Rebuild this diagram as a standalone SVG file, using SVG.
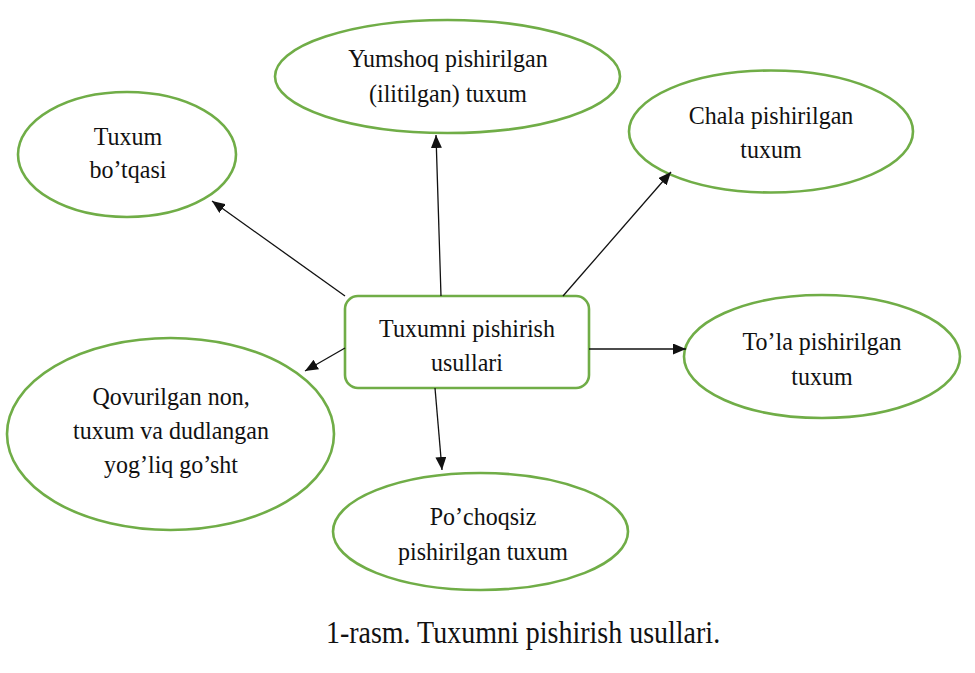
<svg xmlns="http://www.w3.org/2000/svg" width="975" height="673" viewBox="0 0 975 673">
<defs>
<style>
.n{fill:#fff;stroke:#70AD47;stroke-width:2.6}
text{font-family:"Liberation Serif","Times New Roman",serif;fill:#111;text-anchor:middle}
.t{font-size:24px}
.cap{font-size:28px}
.c{stroke:#111;stroke-width:1.3;fill:none;marker-end:url(#ah)}
</style>
<marker id="ah" markerUnits="userSpaceOnUse" markerWidth="13" markerHeight="11" refX="13" refY="5.5" orient="auto">
<path d="M0,0 L13,5.5 L0,11 z" fill="#111"/>
</marker>
</defs>
<rect width="975" height="673" fill="#fff"/>
<g id="center">
<rect class="n" x="345" y="296" width="244" height="92" rx="13"/>
<text class="t" font-family="Liberation Serif, serif" transform="matrix(1,0,0,1.08,467,337)">Tuxumni pishirish</text>
<text class="t" font-family="Liberation Serif, serif" transform="matrix(1,0,0,1.08,467,371)">usullari</text>
</g>
<g id="botqasi">
<ellipse class="n" cx="127" cy="154.5" rx="109" ry="62.5"/>
<text class="t" font-family="Liberation Serif, serif" transform="matrix(1,0,0,1.08,128,145)">Tuxum</text>
<text class="t" font-family="Liberation Serif, serif" transform="matrix(1,0,0,1.08,128,178)">bo’tqasi</text>
</g>
<g id="yumshoq">
<ellipse class="n" cx="447.5" cy="76.5" rx="172.5" ry="56.5"/>
<text class="t" font-family="Liberation Serif, serif" transform="matrix(1,0,0,1.08,448,67)">Yumshoq pishirilgan</text>
<text class="t" font-family="Liberation Serif, serif" transform="matrix(1,0,0,1.08,448,102)">(ilitilgan) tuxum</text>
</g>
<g id="chala">
<ellipse class="n" cx="771" cy="131.5" rx="142" ry="61"/>
<text class="t" font-family="Liberation Serif, serif" transform="matrix(1,0,0,1.08,771,124)">Chala pishirilgan</text>
<text class="t" font-family="Liberation Serif, serif" transform="matrix(1,0,0,1.08,771,158)">tuxum</text>
</g>
<g id="tola">
<ellipse class="n" cx="822" cy="356.5" rx="138" ry="61.5"/>
<text class="t" font-family="Liberation Serif, serif" transform="matrix(1,0,0,1.08,822,350)">To’la pishirilgan</text>
<text class="t" font-family="Liberation Serif, serif" transform="matrix(1,0,0,1.08,822,385)">tuxum</text>
</g>
<g id="qovurilgan">
<ellipse class="n" cx="170.5" cy="434" rx="163.5" ry="96"/>
<text class="t" font-family="Liberation Serif, serif" transform="matrix(1,0,0,1.08,171,405)">Qovurilgan non,</text>
<text class="t" font-family="Liberation Serif, serif" transform="matrix(1,0,0,1.08,171,439)">tuxum va dudlangan</text>
<text class="t" font-family="Liberation Serif, serif" transform="matrix(1,0,0,1.08,171,473)">yog’liq go’sht</text>
</g>
<g id="pochoqsiz">
<ellipse class="n" cx="480.5" cy="531.5" rx="147.5" ry="58.5"/>
<text class="t" font-family="Liberation Serif, serif" transform="matrix(1,0,0,1.08,483,525)">Po’choqsiz</text>
<text class="t" font-family="Liberation Serif, serif" transform="matrix(1,0,0,1.08,483,560)">pishirilgan tuxum</text>
</g>
<g id="connectors">
<line class="c" x1="345" y1="296" x2="212" y2="201"/>
<line class="c" x1="441" y1="296" x2="436" y2="135"/>
<line class="c" x1="563" y1="296" x2="671" y2="172"/>
<line class="c" x1="589" y1="349" x2="686" y2="349"/>
<line class="c" x1="345" y1="348" x2="305" y2="371"/>
<line class="c" x1="435" y1="388" x2="442" y2="470"/>
</g>
<text class="cap" transform="matrix(1,0,0,1.12,523,643)">1-rasm. Tuxumni pishirish usullari.</text>
</svg>
